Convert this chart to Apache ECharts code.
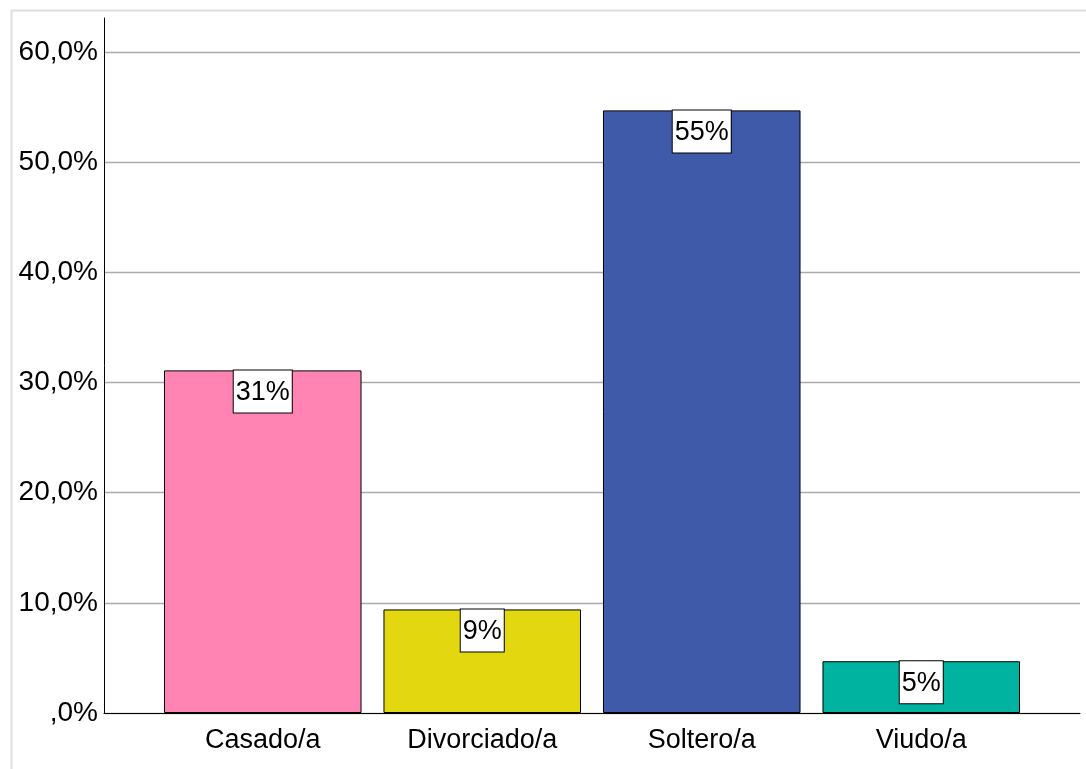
<!DOCTYPE html>
<html>
<head>
<meta charset="utf-8">
<script src="https://cdn.jsdelivr.net/npm/echarts@6/dist/echarts.min.js"></script>
<style>
html,body{margin:0;padding:0;background:#fff;}
#chart{width:1086px;height:769px;}
</style>
</head>
<body>
<div id="chart"></div>
<script>
const categories = ['Casado/a', 'Divorciado/a', 'Soltero/a', 'Viudo/a'];
const values = [31.1, 9.4, 54.7, 4.7];
const labels = ['31%', '9%', '55%', '5%'];
const colors = ['#FF84B4', '#E3D810', '#3F5AA8', '#00B3A0'];
const yTicks = [0, 10, 20, 30, 40, 50, 60];

const FONT = '"Liberation Sans Narrow", "Arial Narrow", "Liberation Sans", sans-serif';
const chart = echarts.init(document.getElementById('chart'));

const fmtY = v => (v === 0 ? ',0%' : v.toFixed(1).replace('.', ',') + '%');

chart.setOption({
  animation: false,
  graphic: [{
    type: 'rect', left: 9, top: 8, z: -10,
    shape: { width: 1100, height: 800 },
    style: { fill: 'none', stroke: '#dedede', lineWidth: 2 }
  }],
  grid: [
    { left: 104, right: 6, top: 52, bottom: 56 },
    { left: 153, right: 55, top: 52, bottom: 56 },
    { left: 104, right: 6, top: 18, bottom: 56 }
  ],
  xAxis: [
    { type: 'category', gridIndex: 0, data: categories,
      axisLine: { show: true, lineStyle: { color: '#000', width: 1 } },
      axisTick: { show: false }, axisLabel: { show: false } },
    { type: 'category', gridIndex: 1, data: categories,
      axisLine: { show: false }, axisTick: { show: false },
      axisLabel: { show: true, color: '#000', fontSize: 27, fontFamily: FONT, margin: 14 } },
    { type: 'category', gridIndex: 2, data: categories, show: false }
  ],
  yAxis: [
    { type: 'value', gridIndex: 0, min: yTicks[0], max: yTicks[yTicks.length - 1], interval: 10,
      axisLine: { show: false }, axisTick: { show: false },
      axisLabel: { color: '#000', fontSize: 28, fontFamily: FONT, margin: 6, formatter: fmtY,
        padding: [8, 0, 0, 0] },
      splitLine: { show: true, lineStyle: { color: '#ababab', width: 1.3 } } },
    { type: 'value', gridIndex: 1, min: yTicks[0], max: yTicks[yTicks.length - 1], interval: 10, show: false,
      splitLine: { show: false } },
    { type: 'value', gridIndex: 2, min: 0, max: 1,
      axisLine: { show: true, lineStyle: { color: '#000', width: 1 } },
      axisTick: { show: false }, axisLabel: { show: false }, splitLine: { show: false } }
  ],
  series: [{
    type: 'bar', xAxisIndex: 1, yAxisIndex: 1,
    barWidth: '90%',
    data: values.map((v, i) => ({
      value: v,
      itemStyle: { color: colors[i], borderColor: '#000', borderWidth: 1 },
      label: { formatter: labels[i] }
    })),
    label: {
      show: true, position: 'insideTop', distance: 0,
      color: '#000', fontSize: 27, fontFamily: FONT,
      backgroundColor: '#fff', borderColor: '#000', borderWidth: 1,
      padding: [6, 2, 4, 2], lineHeight: 32
    }
  }]
});
</script>
</body>
</html>
